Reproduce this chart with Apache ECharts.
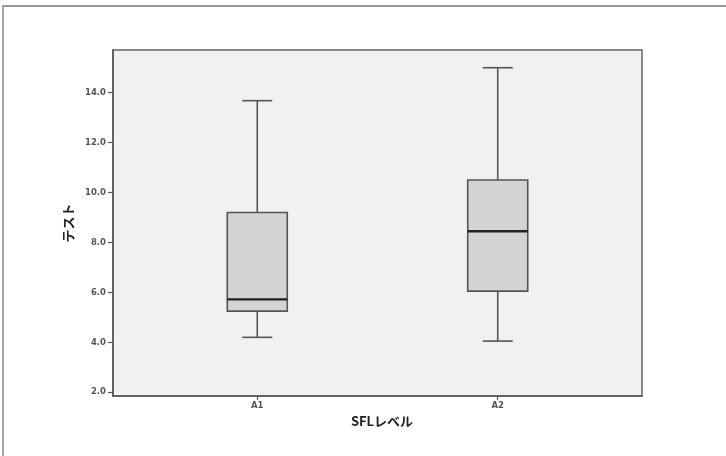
<!DOCTYPE html>
<html>
<head>
<meta charset="utf-8">
<script src="https://cdn.jsdelivr.net/npm/echarts@6/dist/echarts.min.js"></script>
<style>
html,body{margin:0;padding:0;background:#fff;}
#chart{width:726px;height:456px;}
</style>
</head>
<body>
<div id="chart"></div>
<script>
// Data
const categories = ['A1', 'A2'];
const whiskerMin = [4.2, 4.05];
const q1Values = [5.25, 6.05];
const medianValues = [5.72, 8.45];
const q3Values = [9.2, 10.5];
const whiskerMax = [13.68, 15.0];
const yTicks = [2, 4, 6, 8, 10, 12, 14];
const xAxisName = 'SFLレベル';
const yAxisName = 'テスト';

const boxData = categories.map((c, i) => [i, whiskerMin[i], q1Values[i], medianValues[i], q3Values[i], whiskerMax[i]]);

const chart = echarts.init(document.getElementById('chart'), null, {renderer: 'canvas'});

function renderBox(params, api) {
  const x = api.value(0);
  const pMin = api.coord([x, api.value(1)]);
  const pQ1 = api.coord([x, api.value(2)]);
  const pMed = api.coord([x, api.value(3)]);
  const pQ3 = api.coord([x, api.value(4)]);
  const pMax = api.coord([x, api.value(5)]);
  const cx = pMin[0];
  const halfBox = 30;
  const halfCap = 15;
  const lineStyle = {stroke: '#555', lineWidth: 1.6, fill: null};
  return {
    type: 'group',
    children: [
      {type: 'line', shape: {x1: cx, y1: pMax[1], x2: cx, y2: pQ3[1]}, style: lineStyle},
      {type: 'line', shape: {x1: cx, y1: pQ1[1], x2: cx, y2: pMin[1]}, style: lineStyle},
      {type: 'line', shape: {x1: cx - halfCap, y1: pMax[1], x2: cx + halfCap, y2: pMax[1]}, style: lineStyle},
      {type: 'line', shape: {x1: cx - halfCap, y1: pMin[1], x2: cx + halfCap, y2: pMin[1]}, style: lineStyle},
      {type: 'rect', shape: {x: cx - halfBox, y: pQ3[1], width: halfBox * 2, height: pQ1[1] - pQ3[1]},
        style: {fill: '#d4d4d4', stroke: '#555', lineWidth: 1.6}},
      {type: 'line', shape: {x1: cx - halfBox, y1: pMed[1], x2: cx + halfBox, y2: pMed[1]},
        style: {stroke: '#222', lineWidth: 2.4}}
    ]
  };
}

const option = {
  animation: false,
  backgroundColor: '#ffffff',
  grid: {
    left: 113, top: 50, right: 84, bottom: 60,
    show: true, backgroundColor: '#f1f1f1', borderColor: '#666', borderWidth: 1.5
  },
  graphic: [{
    type: 'polyline',
    shape: {points: [[3, 460], [3, 6], [730, 6]]},
    style: {stroke: '#777', lineWidth: 1.3, fill: null},
    silent: true
  }],
  xAxis: {
    type: 'value',
    min: -0.6, max: 1.6,
    name: xAxisName,
    nameLocation: 'middle',
    nameGap: 12,
    nameTextStyle: {fontFamily: 'Noto Sans CJK JP', fontWeight: 'bold', fontSize: 13, color: '#222', verticalAlign: 'top', padding: [0, 0, 0, 9]},
    axisLine: {show: true, onZero: false, lineStyle: {color: '#555', width: 1.5}},
    axisTick: {show: true, length: 4, lineStyle: {color: '#555', width: 1.2}, customValues: [0, 1]},
    axisLabel: {
      customValues: [0, 1],
      formatter: v => categories[Math.round(v)] || '',
      fontFamily: 'DejaVu Sans', fontWeight: 'bold', fontSize: 8.5, color: '#555', margin: 5
    },
    splitLine: {show: false}
  },
  yAxis: {
    type: 'value',
    min: 1.85, max: 15.71,
    name: yAxisName,
    nameLocation: 'middle',
    nameGap: 35,
    nameRotate: 90,
    nameTextStyle: {fontFamily: 'Noto Sans CJK JP', fontWeight: 'bold', fontSize: 13, color: '#222'},
    axisLine: {show: true, onZero: false, lineStyle: {color: '#555', width: 1.5}},
    axisTick: {show: true, length: 5, lineStyle: {color: '#555', width: 1.2}, customValues: yTicks},
    axisLabel: {
      customValues: yTicks,
      formatter: v => Number(v).toFixed(1),
      fontFamily: 'DejaVu Sans', fontWeight: 'bold', fontSize: 8.5, color: '#555', margin: 7
    },
    splitLine: {show: false}
  },
  series: [{
    type: 'custom',
    renderItem: renderBox,
    encode: {x: 0, y: [1, 2, 3, 4, 5]},
    data: boxData,
    silent: true
  }]
};
chart.setOption(option);
</script>
</body>
</html>
